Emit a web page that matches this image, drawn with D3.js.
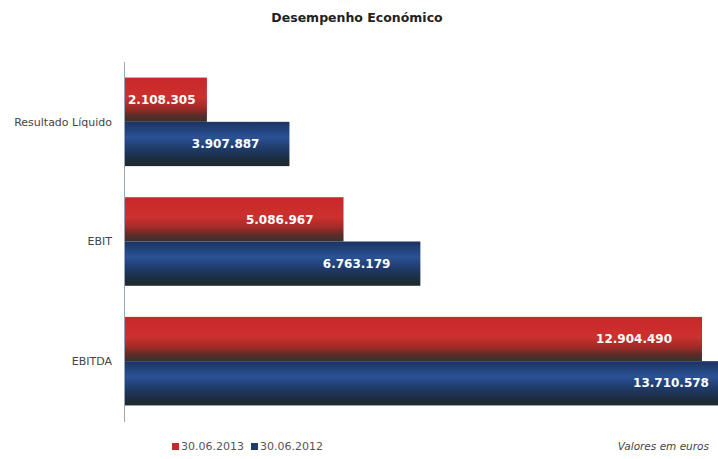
<!DOCTYPE html>
<html>
<head>
<meta charset="utf-8">
<script src="https://cdn.jsdelivr.net/npm/d3@7"></script>
<style>
  html, body { margin: 0; padding: 0; background: #fff; overflow: hidden; }
  svg { display: block; font-family: "DejaVu Sans", Verdana, sans-serif; }
</style>
</head>
<body>
<script>
var width = 718, height = 459;

/** data **/
var categories = ["Resultado Líquido", "EBIT", "EBITDA"];
var seriesNames = ["30.06.2013", "30.06.2012"];
var values2013 = [2108305, 5086967, 12904490];
var values2012 = [3907887, 6763179, 13710578];
var seriesColors = ["#c4282b", "#1f3a6b"];

var fmt = d3.formatLocale({ decimal: ",", thousands: ".", grouping: [3], currency: ["", "€"] }).format(",d");

var svg = d3.select("body").append("svg")
    .attr("width", width)
    .attr("height", height);

/** gradients to fake the shaded bars **/
var defs = svg.append("defs");
var grads = [
    [["0%", "#c9272a"], ["45%", "#cc312e"], ["68%", "#a32a27"], ["86%", "#5a2c28"], ["100%", "#383230"]],
    [["0%", "#1c3262"], ["35%", "#2a5295"], ["60%", "#1f3b6a"], ["85%", "#1d2d40"], ["100%", "#1e2a2c"]]
];
grads.forEach((stops, i) => {
    var g = defs.append("linearGradient")
        .attr("id", "grad" + i)
        .attr("x1", 0).attr("y1", 0).attr("x2", 0).attr("y2", 1);
    stops.forEach(s => g.append("stop").attr("offset", s[0]).attr("stop-color", s[1]));
});

// axis does not start at zero in the original
var x = d3.scaleLinear()
    .domain([300000, 12904490])
    .range([124, 702]);

var y0 = d3.scaleBand()
    .domain(categories)
    .range([62, 421])
    .paddingInner(0.26)
    .paddingOuter(0.13);

var y1 = d3.scaleBand()
    .domain(seriesNames)
    .range([0, y0.bandwidth()]);

var rows = categories.map((c, i) => ({
    category: c,
    values: [values2013[i], values2012[i]]
}));

/** title **/
svg.append("text")
    .attr("x", 357)
    .attr("y", 22)
    .attr("text-anchor", "middle")
    .attr("font-size", 12.5)
    .attr("font-weight", "bold")
    .attr("fill", "#222")
    .text("Desempenho Económico");

/** bars **/
var group = svg.selectAll("g.cat")
    .data(rows)
    .enter().append("g")
    .attr("class", "cat")
    .attr("transform", d => "translate(0," + y0(d.category) + ")");

group.selectAll("rect")
    .data(d => d.values.map((v, i) => ({ v: v, s: seriesNames[i], i: i })))
    .enter().append("rect")
    .attr("x", x.range()[0])
    .attr("y", d => y1(d.s))
    .attr("width", d => x(d.v) - x.range()[0])
    .attr("height", y1.bandwidth())
    .attr("fill", d => "url(#grad" + d.i + ")");

group.selectAll("text.val")
    .data(d => d.values.map((v, i) => ({ v: v, s: seriesNames[i], i: i })))
    .enter().append("text")
    .attr("class", "val")
    .attr("y", d => y1(d.s) + y1.bandwidth() / 2)
    .attr("dy", "0.35em")
    .attr("text-anchor", "end")
    .attr("font-size", 12)
    .attr("font-weight", "bold")
    .attr("fill", "#fff")
    .text(d => fmt(d.v))
    .attr("x", function(d) {
        var w = this.getComputedTextLength();
        return Math.max(x(d.v) - 30, x.range()[0] + 4 + w);
    });

/** category axis **/
svg.append("line")
    .attr("x1", 124.5).attr("x2", 124.5)
    .attr("y1", 62).attr("y2", 422)
    .attr("stroke", "#9aa6b8")
    .attr("stroke-width", 1);

svg.selectAll("text.cat")
    .data(categories)
    .enter().append("text")
    .attr("class", "cat")
    .attr("x", 112)
    .attr("y", d => y0(d) + y0.bandwidth() / 2)
    .attr("dy", "0.35em")
    .attr("text-anchor", "end")
    .attr("font-size", 11)
    .attr("fill", "#444")
    .text(d => d);

/** legend **/
var legend = svg.selectAll("g.legend")
    .data(seriesNames)
    .enter().append("g")
    .attr("class", "legend")
    .attr("transform", (d, i) => "translate(" + (172 + i * 79) + ",450)");

legend.append("rect")
    .attr("x", 0).attr("y", -7)
    .attr("width", 7).attr("height", 7)
    .attr("fill", (d, i) => seriesColors[i]);

legend.append("text")
    .attr("x", 9)
    .attr("y", 0)
    .attr("font-size", 11)
    .attr("fill", "#555")
    .text(d => d);

svg.append("text")
    .attr("x", 709)
    .attr("y", 450)
    .attr("text-anchor", "end")
    .attr("font-size", 10.5)
    .attr("font-style", "italic")
    .attr("fill", "#444")
    .text("Valores em euros");
</script>
</body>
</html>
